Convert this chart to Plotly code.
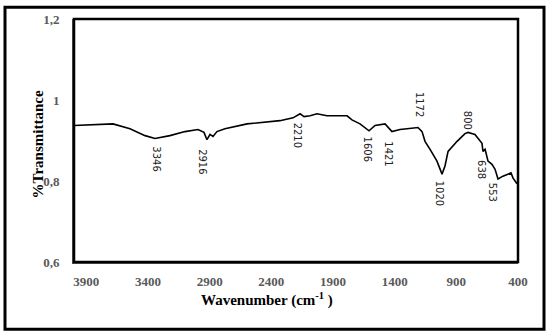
import plotly.graph_objects as go

wavenumber = [4000, 3830, 3684, 3546, 3424, 3343, 3222, 3100, 2995, 2946, 2922, 2897, 2873, 2841,
              2776, 2597, 2451, 2330, 2224, 2167, 2135, 2086, 2030, 1949, 1786, 1746, 1681, 1608,
              1559, 1495, 1478, 1422, 1357, 1300, 1211, 1178, 1154, 1113, 1057, 1016, 992, 967,
              894, 830, 805, 749, 692, 684, 667, 643, 611, 586, 562, 522, 489, 457, 440, 408]
transmittance = [0.937, 0.939, 0.941, 0.929, 0.912, 0.905, 0.912, 0.922, 0.927, 0.920, 0.902, 0.915,
                 0.910, 0.922, 0.929, 0.941, 0.946, 0.949, 0.956, 0.966, 0.959, 0.961, 0.966, 0.961,
                 0.961, 0.951, 0.941, 0.924, 0.937, 0.941, 0.941, 0.922, 0.927, 0.929, 0.932, 0.922,
                 0.898, 0.878, 0.849, 0.817, 0.837, 0.873, 0.898, 0.917, 0.920, 0.915, 0.893, 0.873,
                 0.878, 0.849, 0.841, 0.829, 0.805, 0.812, 0.817, 0.820, 0.807, 0.793]

peak_labels = ["3346", "2916", "2210", "1606", "1421", "1172", "800", "1020", "638", "553"]
peak_x = [3327, 2954, 2192, 1624, 1446, 1203, 813, 1040, 692, 611]
peak_y = [0.856, 0.849, 0.912, 0.880, 0.866, 0.988, 0.951, 0.771, 0.827, 0.771]

x_ticks = [3900, 3400, 2900, 2400, 1900, 1400, 900, 400]
y_ticks = [0.6, 0.8, 1.0, 1.2]
y_ticktext = ["0,6", "0,8", "1", "1,2"]

fig = go.Figure()
fig.add_trace(go.Scatter(x=wavenumber, y=transmittance, mode="lines",
                         line=dict(color="black", width=1.6), showlegend=False,
                         hoverinfo="skip"))

for t, xv, yv in zip(peak_labels, peak_x, peak_y):
    fig.add_annotation(x=xv, y=yv, xref="x", yref="y", text=t, showarrow=False,
                       textangle=90, font=dict(family="DejaVu Sans", size=10, color="#222222"))

tick_font = dict(family="Liberation Serif", size=13, color="#595959")
fig.update_xaxes(range=[4000, 400], tickvals=x_ticks, ticktext=[f"<b>{v}</b>" for v in x_ticks],
                 tickfont=tick_font, showgrid=False, zeroline=False, showline=True,
                 linecolor="#555555", linewidth=2, ticks="", ticklabelstandoff=6)
fig.update_yaxes(range=[0.6, 1.2], tickvals=y_ticks, ticktext=[f"<b>{v}</b>" for v in y_ticktext],
                 tickfont=tick_font, showgrid=False, zeroline=False, showline=True,
                 linecolor="#555555", linewidth=2, ticks="", ticklabelstandoff=10)

# plot area frame
fig.add_shape(type="rect", xref="paper", yref="paper", x0=0, y0=0, x1=1, y1=1,
              line=dict(color="black", width=2.5))
# outer chart border
fig.add_shape(type="rect", xref="paper", yref="paper",
              x0=(5 - 74) / 444, x1=(544 - 74) / 444,
              y0=(262 - 330) / 246, y1=(262 - 4) / 246,
              line=dict(color="black", width=3))

fig.add_annotation(x=(267 - 74) / 444, y=(262 - 312) / 246, xref="paper", yref="paper",
                   text="<b>Wavenumber (cm<sup>-1</sup> )</b>", showarrow=False,
                   font=dict(family="Liberation Serif", size=15, color="black"))
fig.add_annotation(x=(28 - 74) / 444, y=(262 - 143) / 246, xref="paper", yref="paper",
                   text="<b>%Transmittance</b>", showarrow=False, textangle=-90,
                   font=dict(family="Liberation Serif", size=15, color="black"))

fig.update_layout(width=550, height=336, margin=dict(l=74, r=32, t=16, b=74),
                  plot_bgcolor="white", paper_bgcolor="white")

fig.write_html("out.html", config={"displayModeBar": False},
               post_script="document.body.style.margin='0';document.body.style.overflow='hidden';")
